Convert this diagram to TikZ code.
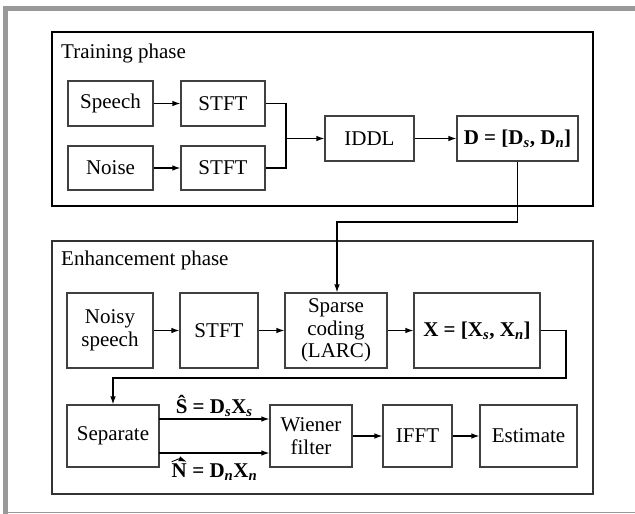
\documentclass[tikz,border=0pt]{standalone}
\usepackage{fontspec}
\setmainfont{Liberation Serif}
\usetikzlibrary{arrows.meta}
\begin{document}
\begin{tikzpicture}[x=1pt,y=-1pt,
  every node/.style={font=\fontsize{21}{22.5}\selectfont},
  blk/.style={draw=black!75,line width=1.1pt,inner sep=0pt,align=center},
  conn/.style={draw=black,line width=1.2pt},
  arr/.style={conn,-{Latex[length=8pt,width=5.5pt]}},
  lbl/.style={inner sep=0pt,anchor=base west}]
\useasboundingbox (0,0) rectangle (635,514);
% outer gray frame
\fill[black!40] (3,6) rectangle (635,11);
\fill[black!40] (3,6) rectangle (8,514);
\fill[black!40] (3,511.5) rectangle (635,513.2);
% phase frames
\draw[line width=2pt,black] (52,32) rectangle (593,206);
\draw[line width=1.4pt,black!80] (52,241) rectangle (593,494);
\node[lbl] (tp) at (61,58) {Training phase};
\node[lbl] (ep) at (61,265.5) {Enhancement phase};
% training nodes
\node[blk,minimum width=85pt,minimum height=45pt] (speech) at (110.5,103.5) {Speech};
\node[blk,minimum width=84pt,minimum height=45pt] (stft1) at (223,103.5) {STFT};
\node[blk,minimum width=85pt,minimum height=44pt] (noise) at (110.5,168) {Noise};
\node[blk,minimum width=84pt,minimum height=44pt] (stft2) at (223,168) {STFT};
\node[blk,minimum width=89pt,minimum height=45pt] (iddl) at (369.5,138.5) {IDDL};
\node[blk,minimum width=121pt,minimum height=45pt] (dbox) at (517.5,138.5)
  {\textbf{D = [D\textsubscript{\textit{s}}, D\textsubscript{\textit{n}}]}};
\coordinate (j) at (286,138.5);
\draw[arr] (speech) -- (stft1);
\draw[arr] (noise) -- (stft2);
\draw[conn] (stft1.east) -| (j);
\draw[conn] (stft2.east) -| (j);
\draw[arr] (j) -- (iddl);
\draw[arr] (iddl) -- (dbox);
% enhancement nodes
\node[blk,minimum width=86pt,minimum height=75pt] (noisy) at (110,330.5) {Noisy\\speech};
\node[blk,minimum width=78pt,minimum height=75pt] (stft3) at (219,330.5) {STFT};
\node[blk,minimum width=102pt,minimum height=75pt] (sparse) at (336,330.5) {Sparse\\coding\\(LARC)};
\node[blk,minimum width=126pt,minimum height=75pt] (xbox) at (477,330.5)
  {\textbf{X = [X\textsubscript{\textit{s}}, X\textsubscript{\textit{n}}]}};
\node[blk,minimum width=92pt,minimum height=62pt] (sep) at (113,436) {Separate};
\node[blk,minimum width=82pt,minimum height=62pt] (wiener) at (311,436) {Wiener\\filter};
\node[blk,minimum width=69pt,minimum height=62pt] (ifft) at (417.5,436) {IFFT};
\node[blk,minimum width=97pt,minimum height=62pt] (est) at (528.5,436) {Estimate};
\draw[arr] (noisy) -- (stft3);
\draw[arr] (stft3) -- (sparse);
\draw[arr] (sparse) -- (xbox);
\draw[arr] (wiener) -- (ifft);
\draw[arr] (ifft) -- (est);
% D to sparse coding
\coordinate (c1) at (517.5,222);
\coordinate (c2) at (337,222);
\draw[arr] (dbox.south) -- (c1) -- (c2) -- (sparse.north -| c2);
% feedback X to separate
\coordinate (f1) at (566,330.5);
\coordinate (f2) at (566,378);
\coordinate (f3) at (113,378);
\draw[arr] (xbox.east) -- (f1) -- (f2) -- (f3) -- (sep.north);
% separate to wiener
\coordinate (s1) at (159,419);
\coordinate (s2) at (159,453);
\draw[arr] (s1) -- (s1 -| wiener.west) node[midway,above=2pt,inner sep=0pt] (slab)
  {\textbf{\^{S} = D\textsubscript{\textit{s}}X\textsubscript{\textit{s}}}};
\draw[arr] (s2) -- (s2 -| wiener.west) node[midway,below=3pt,inner sep=0pt] (nlab)
  {\textbf{\tikz[baseline=(hn.base),x=1pt,y=1pt]{\node[inner sep=0pt,font=\fontsize{21}{22.5}\selectfont\bfseries] (hn) {N};
     \draw[line width=0.9pt,line join=miter] ([xshift=0.3pt,yshift=1.8pt]hn.north west) -- ([yshift=4.8pt]hn.north) -- ([xshift=-0.3pt,yshift=1.8pt]hn.north east);} = D\textsubscript{\textit{n}}X\textsubscript{\textit{n}}}};
\end{tikzpicture}
\end{document}
